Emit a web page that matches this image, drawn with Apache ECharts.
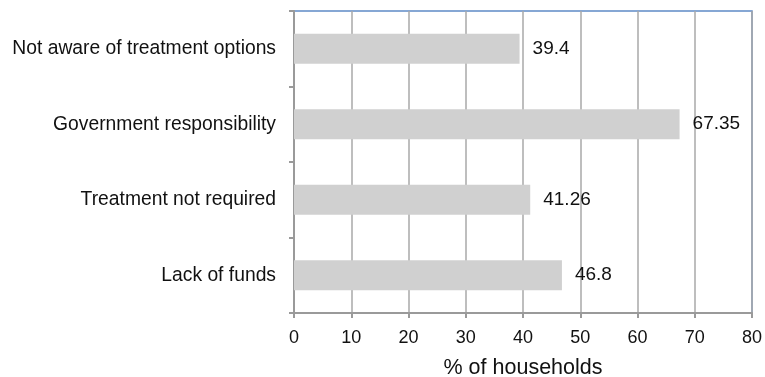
<!DOCTYPE html>
<html>
<head>
<meta charset="utf-8">
<script src="https://cdn.jsdelivr.net/npm/echarts@6/dist/echarts.min.js"></script>
<style>
html,body{margin:0;padding:0;background:#fff;}
#chart{width:765px;height:377px;}
</style>
</head>
<body>
<div id="chart"></div>
<script>
// Reasons given by households (bottom to top on the axis)
const reasons = ['Lack of funds', 'Treatment not required', 'Government responsibility', 'Not aware of treatment options'];
const shares = [46.8, 41.26, 67.35, 39.4];
const xTicks = { min: 0, max: 80, interval: 10 };

const FONT = 'Liberation Sans';
const chart = echarts.init(document.getElementById('chart'));
chart.setOption({
  animation: false,
  grid: {
    left: 294, right: 13, top: 11, bottom: 64,
    outerBoundsMode: 'none',
    containLabel: false,
    show: true, borderColor: '#5f8ac6', borderWidth: 1.5, backgroundColor: 'transparent'
  },
  xAxis: {
    type: 'value',
    min: xTicks.min, max: xTicks.max, interval: xTicks.interval,
    name: '% of households',
    nameLocation: 'middle',
    nameGap: 44,
    nameTextStyle: { fontFamily: FONT, fontSize: 21.5, color: '#111' },
    axisLine: { show: true, lineStyle: { color: '#9a9a9a', width: 2 } },
    axisTick: { show: true, length: 5, lineStyle: { color: '#9a9a9a', width: 2 } },
    axisLabel: { fontFamily: FONT, fontSize: 18, color: '#111', margin: 16 },
    splitLine: { show: true, lineStyle: { color: '#a8a8a8', width: 1.5 } }
  },
  yAxis: {
    type: 'category',
    data: reasons,
    axisLine: { show: true, lineStyle: { color: '#9a9a9a', width: 2 } },
    axisTick: { show: true, length: 5, lineStyle: { color: '#9a9a9a', width: 2 } },
    axisLabel: { fontFamily: FONT, fontSize: 19.3, color: '#111', margin: 18 }
  },
  series: [{
    type: 'bar',
    data: shares,
    barWidth: '40%',
    itemStyle: { color: '#d0d0d0' },
    label: {
      show: true,
      position: 'right',
      distance: 13,
      fontFamily: FONT,
      fontSize: 19,
      color: '#111'
    }
  }]
});
</script>
</body>
</html>
